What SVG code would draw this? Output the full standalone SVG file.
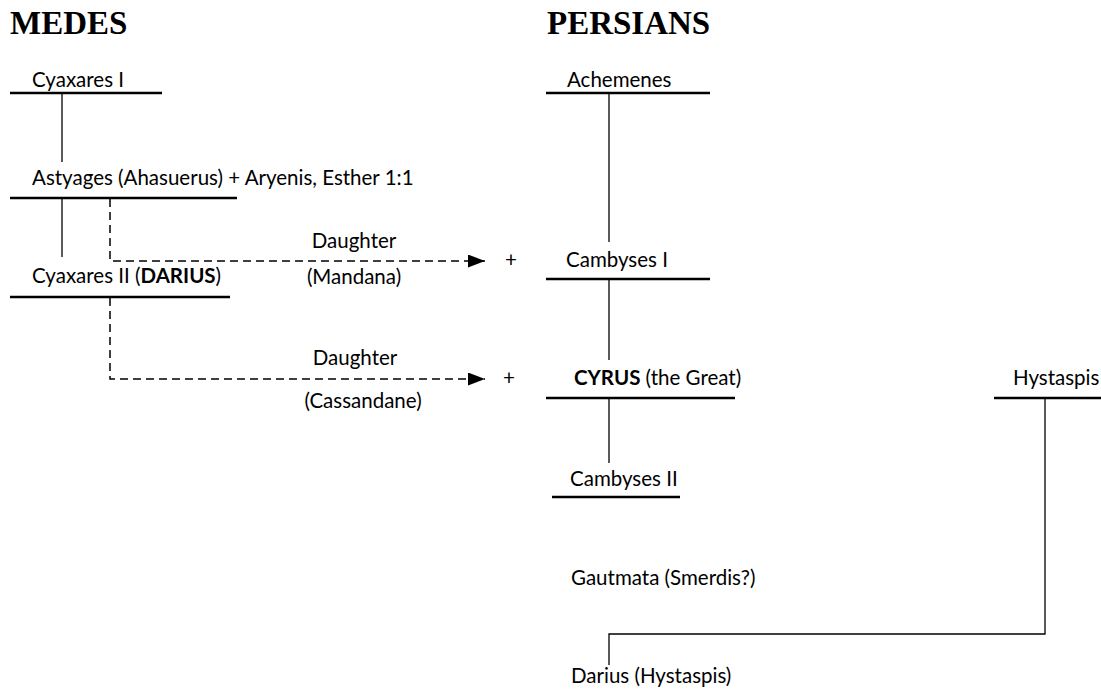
<svg xmlns="http://www.w3.org/2000/svg" width="1101" height="690" viewBox="0 0 1101 690">
<style>
.h{font-family:"Liberation Serif","Times New Roman",serif;font-weight:bold;font-size:33px;fill:#000}
.t{font-family:Lato,"Liberation Sans",sans-serif;font-size:20.5px;fill:#000}
.c{text-anchor:middle}
.b{font-weight:bold}
.ul{stroke:#000;stroke-width:2.6;fill:none}
.v{stroke:#000;stroke-width:1.3;fill:none}
.d{stroke:#000;stroke-width:1.5;fill:none;stroke-dasharray:8 5}
</style>
<defs>
<marker id="ah" markerUnits="userSpaceOnUse" markerWidth="18" markerHeight="13" refX="17" refY="6.5" orient="auto">
<path d="M0,0 L17,6.5 L0,13 Z" fill="#000"/>
</marker>
</defs>
<rect width="1101" height="690" fill="#fff"/>
<text class="h" x="10" y="34">MEDES</text>
<text class="h" x="547" y="34">PERSIANS</text>

<g id="connectors">
<path class="v" d="M62,93 V162"/>
<path class="v" d="M62,198 V257"/>
<path class="v" d="M609,93 V242"/>
<path class="v" d="M609,279 V360"/>
<path class="v" d="M609,398 V463"/>
<path class="v" d="M1045,398 V634 H609 V665"/>
<path class="d" d="M110,199 V261 H485" marker-end="url(#ah)"/>
<path class="d" d="M110,298 V379 H485" marker-end="url(#ah)"/>
<text class="t c" x="354" y="248">Daughter</text>
<text class="t c" x="354" y="284">(Mandana)</text>
<text class="t c" x="511" y="267">+</text>
<text class="t c" x="355" y="365">Daughter</text>
<text class="t c" x="363" y="408">(Cassandane)</text>
<text class="t c" x="509" y="385">+</text>
</g>

<g id="cyaxares1">
<text class="t" x="32" y="87">Cyaxares I</text>
<path class="ul" d="M10,93 H162"/>
</g>
<g id="astyages">
<text class="t" x="32" y="185">Astyages (Ahasuerus) + Aryenis, Esther 1:1</text>
<path class="ul" d="M10,198 H237"/>
</g>
<g id="cyaxares2">
<text class="t" x="32" y="283">Cyaxares II (<tspan class="b">DARIUS</tspan>)</text>
<path class="ul" d="M10,297 H230"/>
</g>
<g id="achemenes">
<text class="t" x="567" y="87">Achemenes</text>
<path class="ul" d="M546,93 H710"/>
</g>
<g id="cambyses1">
<text class="t" x="566" y="267">Cambyses I</text>
<path class="ul" d="M546,279 H710"/>
</g>
<g id="cyrus">
<text class="t" x="574" y="385"><tspan class="b">CYRUS</tspan> (the Great)</text>
<path class="ul" d="M546,398 H735"/>
</g>
<g id="cambyses2">
<text class="t" x="570" y="486">Cambyses II</text>
<path class="ul" d="M552,497 H680"/>
</g>
<g id="hystaspis">
<text class="t" x="1013" y="385">Hystaspis</text>
<path class="ul" d="M994,398 H1101"/>
</g>
<g id="gautmata">
<text class="t" x="571" y="585">Gautmata (Smerdis?)</text>
</g>
<g id="darius">
<text class="t" x="571" y="683">Darius (Hystaspis)</text>
</g>
</svg>
